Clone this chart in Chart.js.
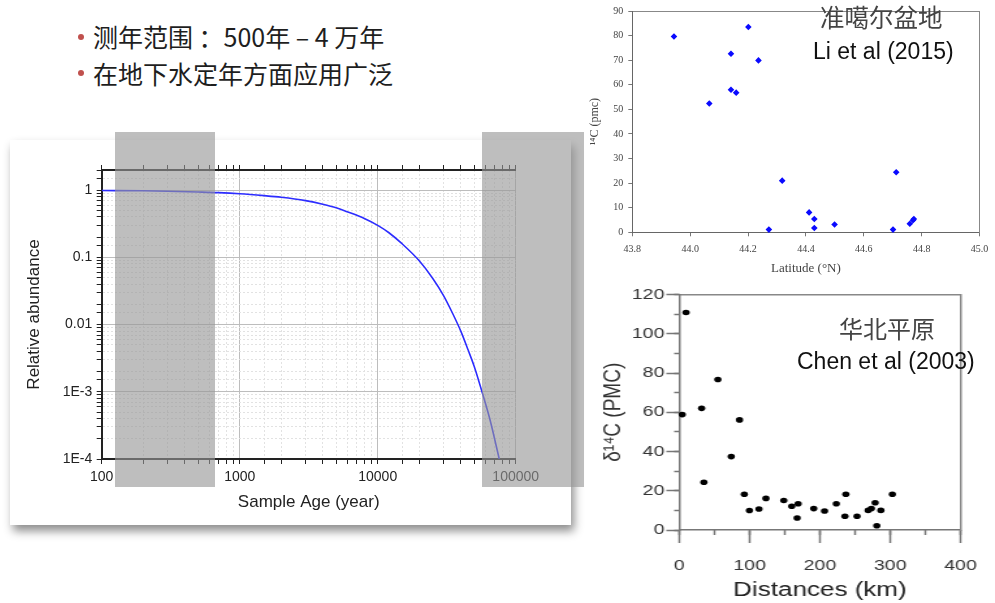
<!DOCTYPE html>
<html>
<head>
<meta charset="utf-8">
<script src="https://cdn.jsdelivr.net/npm/chart.js@4.4.0/dist/chart.umd.min.js"></script>
<style>
  html, body { margin: 0; padding: 0; background: #fff; }
  body { width: 995px; height: 603px; position: relative; overflow: hidden; font-family: "Liberation Sans", Arial, sans-serif; }
  .bullet { position: absolute; left: 93px; font-family: "Noto Sans CJK SC", sans-serif; font-size: 25px; line-height: 25px; color: #1e1e1e; white-space: nowrap; }
  .dot { position: absolute; left: 78px; width: 6px; height: 6px; border-radius: 50%; background: #c0504d; }
  #card1 { position: absolute; left: 10px; top: 140px; width: 561px; height: 385px; background: #fff; box-shadow: 3px 6px 9px rgba(0,0,0,0.45); }
  #box2 { position: absolute; left: 585px; top: 0; width: 410px; height: 280px; }
  #box3 { position: absolute; left: 598px; top: 280px; width: 305px; height: 323px; transform: scaleX(1.3016); transform-origin: 0 0; }
  .band { position: absolute; top: 131.5px; height: 355px; background: rgba(150,150,150,0.62); }
  .cjk { position: absolute; font-family: "Noto Sans CJK SC", sans-serif; color: #444; white-space: nowrap; }
  .lbl { position: absolute; font-family: "Liberation Sans", Arial, sans-serif; color: #111; white-space: nowrap; }
</style>
</head>
<body>

<div class="dot" style="top:34px"></div>
<div class="bullet" style="top:24px">测年范围 ：500年 – 4 万年</div>
<div class="dot" style="top:70px"></div>
<div class="bullet" style="top:61px">在地下水定年方面应用广泛</div>

<div id="card1"><canvas id="decayChart" width="561" height="385"></canvas></div>
<div class="band" style="left:114.5px; width:100.5px"></div>
<div class="band" style="left:481.7px; width:102.3px"></div>

<div id="box2"><canvas id="junggarChart" width="410" height="280"></canvas></div>
<div class="cjk" style="left:820px; top:5px; font-size:24.5px; line-height:24px">准噶尔盆地</div>
<div class="lbl" style="left:813px; top:40px; font-size:23px; line-height:23px">Li et al (2015)</div>

<div id="box3"><canvas id="plainChart" width="305" height="323"></canvas></div>
<div class="cjk" style="left:839px; top:316px; font-size:24px; line-height:24px">华北平原</div>
<div class="lbl" style="left:797px; top:350px; font-size:23px; line-height:23px">Chen et al (2003)</div>

<script>
// radiocarbon decay curve
var ageYears = [100, 200, 300, 500, 700, 1000, 1500, 2000, 3000, 4000, 5000, 6000, 8000, 10000,
  12000, 15000, 20000, 25000, 30000, 35000, 40000, 45000, 50000, 57000, 65000, 76000];
var relAbundance = [0.99, 0.98, 0.965, 0.94, 0.92, 0.886, 0.83, 0.785, 0.70, 0.62, 0.55, 0.48, 0.38, 0.30,
  0.235, 0.16, 0.089, 0.049, 0.027, 0.0145, 0.008, 0.0043, 0.0024, 0.001, 0.00039, 0.0001];
var ageDecades = [100, 1000, 10000, 100000];
var ageTickLabels = ['100', '1000', '10000', '100000'];
var abundanceDecades = [0.0001, 0.001, 0.01, 0.1, 1];
var abundanceTickLabels = ['1E-4', '1E-3', '0.01', '0.1', '1'];

// Junggar basin, Li et al (2015)
var junggarLat = [43.944, 44.201, 44.141, 44.236, 44.141, 44.159, 44.066, 44.318, 44.712,
  44.411, 44.429, 44.429, 44.272, 44.499, 44.701, 44.759, 44.770, 44.773];
var junggarC14 = [79.6, 83.5, 72.6, 69.9, 58.0, 56.8, 52.4, 21.0, 24.4,
  8.1, 5.4, 1.75, 1.1, 3.2, 1.1, 3.5, 4.9, 5.4];

// North China Plain, Chen et al (2003)
var plainDistKm = [4.1, 9.5, 54.8, 31.7, 34.9, 73.8, 85.6, 92.4, 99.7, 113.3, 123.2, 148.6, 159.9, 169.0,
  167.6, 191.2, 206.6, 223.3, 236.9, 235.6, 252.8, 268.6, 273.2, 278.6, 286.7, 280.9, 303.1];
var plainD14C = [58.8, 110.8, 76.7, 62.0, 24.3, 37.4, 56.1, 18.2, 9.9, 10.7, 16.1, 15.0, 12.1, 13.4,
  6.1, 10.9, 9.7, 13.4, 18.2, 7.0, 7.0, 10.0, 10.9, 13.9, 10.0, 2.2, 18.2];

Chart.defaults.font.family = '"Liberation Sans", Arial, sans-serif';
Chart.defaults.animation = false;
Chart.defaults.plugins.legend.display = false;
Chart.defaults.plugins.tooltip.enabled = false;

function isDecade(v) {
  var l = Math.log10(v);
  return Math.abs(l - Math.round(l)) < 1e-6;
}
function decadeLabel(v, decades, labels) {
  for (var i = 0; i < decades.length; i++) {
    if (Math.abs(Math.log10(decades[i]) - Math.log10(v)) < 1e-6) return labels[i];
  }
  return '';
}
var gridColor = function (c) { return (c.tick && isDecade(c.tick.value)) ? '#bdbdbd' : '#e2e2e2'; };
var gridDash = function (c) { return (c.tick && !isDecade(c.tick.value)) ? [2, 2] : []; };

// ---- left: decay curve on log-log axes
new Chart(document.getElementById('decayChart'), {
  type: 'line',
  data: {
    datasets: [{
      data: ageYears.map(function (a, i) { return { x: a, y: relAbundance[i] }; }),
      borderColor: 'rgb(45,45,255)',
      borderWidth: 1.6,
      pointRadius: 0,
      cubicInterpolationMode: 'monotone'
    }]
  },
  options: {
    responsive: false,
    layout: { padding: { left: 0, right: 55.3, top: 0, bottom: 0 } },
    scales: {
      x: {
        type: 'logarithmic', position: 'bottom', min: 100, max: 100000,
        ticks: {
          autoSkip: false, maxRotation: 0, padding: 5, color: '#222', font: { size: 14 },
          callback: function (v) { return decadeLabel(v, ageDecades, ageTickLabels); }
        },
        grid: { color: gridColor, tickLength: 5, tickColor: '#222' },
        border: { color: '#222', width: 2, dash: gridDash },
        title: { display: true, text: 'Sample Age (year)', color: '#222', font: { size: 17 }, padding: { top: 0, bottom: 12.8 } },
        afterFit: function (s) { s.height = 66; }
      },
      xTop: {
        type: 'logarithmic', position: 'top', min: 100, max: 100000,
        ticks: { display: false, autoSkip: false },
        grid: { drawOnChartArea: false, tickLength: 5, tickColor: '#222' },
        border: { color: '#222', width: 2 },
        afterFit: function (s) { s.height = 30; }
      },
      y: {
        type: 'logarithmic', position: 'left', min: 0.0001, max: 2,
        ticks: {
          autoSkip: false, padding: 4.4, color: '#222', font: { size: 14 },
          callback: function (v) { return decadeLabel(v, abundanceDecades, abundanceTickLabels); }
        },
        grid: { color: gridColor, tickLength: 5, tickColor: '#222' },
        border: { color: '#222', width: 2, dash: gridDash },
        title: { display: true, text: 'Relative abundance', color: '#222', font: { size: 17 }, padding: { top: 13.8, bottom: 0 } },
        afterFit: function (s) { s.width = 91.7; }
      }
    }
  }
});

// ---- top right: Junggar scatter
var serif = '"Liberation Serif", "Times New Roman", serif';
new Chart(document.getElementById('junggarChart'), {
  type: 'scatter',
  data: {
    datasets: [{
      data: junggarLat.map(function (x, i) { return { x: x, y: junggarC14[i] }; }),
      pointStyle: 'rectRot',
      pointRadius: 3.3,
      backgroundColor: '#0a0aff',
      borderWidth: 0
    }]
  },
  options: {
    responsive: false,
    clip: false,
    layout: { padding: { left: 0, right: 7.7, top: 10, bottom: 0 } },
    scales: {
      x: {
        type: 'linear', min: 43.8, max: 45.0,
        ticks: { stepSize: 0.2, padding: 6.7, color: '#444', font: { family: serif, size: 10 },
          callback: function (v) { return v.toFixed(1); } },
        grid: { drawOnChartArea: false, tickLength: 4, tickColor: '#777' },
        border: { color: '#666', width: 1 },
        title: { display: true, text: 'Latitude (°N)', color: '#444', font: { family: serif, size: 13 }, padding: { top: 0, bottom: 3.9 } },
        afterFit: function (s) { s.height = 47.7; }
      },
      xTop: {
        type: 'linear', position: 'top', min: 43.8, max: 45.0,
        ticks: { display: false }, grid: { display: false },
        border: { color: '#888', width: 1 },
        afterFit: function (s) { s.height = 0; }
      },
      y: {
        type: 'linear', min: 0, max: 90,
        ticks: { stepSize: 10, padding: 5, color: '#444', font: { family: serif, size: 10 } },
        grid: { drawOnChartArea: false, tickLength: 4, tickColor: '#777' },
        border: { color: '#666', width: 1 },
        title: { display: true, text: '¹⁴C (pmc)', color: '#444', font: { family: serif, size: 12 }, padding: { top: 2.8, bottom: 0 } },
        afterFit: function (s) { s.width = 47.3; }
      },
      yRight: {
        type: 'linear', position: 'right', min: 0, max: 90,
        ticks: { display: false }, grid: { display: false },
        border: { color: '#888', width: 1 },
        afterFit: function (s) { s.width = 0; }
      }
    }
  }
});

// ---- bottom right: North China Plain scatter (source image is stretched sideways)
new Chart(document.getElementById('plainChart'), {
  type: 'scatter',
  data: {
    datasets: [{
      data: plainDistKm.map(function (x, i) { return { x: x, y: plainD14C[i] }; }),
      pointRadius: 2.8,
      backgroundColor: '#000',
      borderWidth: 0
    }]
  },
  options: {
    responsive: false,
    clip: false,
    layout: { padding: { left: 0, right: 16.7, top: 14.5, bottom: 0 } },
    scales: {
      x: {
        type: 'linear', position: 'bottom', weight: 1, min: 0, max: 400,
        ticks: { stepSize: 100, padding: 14, color: '#333', font: { size: 15 } },
        grid: { drawOnChartArea: false, tickLength: 13, tickColor: '#777', tickWidth: 1.5 },
        border: { color: '#777', width: 1.5 },
        title: { display: true, text: 'Distances (km)', color: '#222', font: { size: 20 }, padding: { top: 0, bottom: 1 } },
        afterFit: function (s) { s.height = 73; }
      },
      xMinor: {
        type: 'linear', position: 'bottom', weight: 0, min: 0, max: 400,
        ticks: { stepSize: 50, display: false },
        grid: { drawOnChartArea: false, tickLength: 5, tickColor: '#777', tickWidth: 1.5 },
        border: { display: false },
        afterFit: function (s) { s.height = 0; }
      },
      xTop: {
        type: 'linear', position: 'top', min: 0, max: 400,
        ticks: { display: false }, grid: { display: false },
        border: { color: '#888', width: 1.5 },
        afterFit: function (s) { s.height = 0; }
      },
      y: {
        type: 'linear', position: 'left', weight: 1, min: 0, max: 120,
        ticks: { stepSize: 20, padding: 1.5, color: '#333', font: { size: 15 } },
        grid: { drawOnChartArea: false, tickLength: 10, tickColor: '#777', tickWidth: 1.5 },
        border: { color: '#777', width: 1.5 },
        title: { display: true, text: 'δ¹⁴C (PMC)', color: '#333', font: { size: 19 }, padding: { top: 0.5, bottom: 0 } },
        afterFit: function (s) { s.width = 62.5; }
      },
      yMinor: {
        type: 'linear', position: 'left', weight: 0, min: 0, max: 120,
        ticks: { stepSize: 10, display: false },
        grid: { drawOnChartArea: false, tickLength: 4, tickColor: '#777', tickWidth: 1.5 },
        border: { display: false },
        afterFit: function (s) { s.width = 0; }
      },
      yRight: {
        type: 'linear', position: 'right', min: 0, max: 120,
        ticks: { display: false }, grid: { display: false },
        border: { color: '#888', width: 1.5 },
        afterFit: function (s) { s.width = 0; }
      }
    }
  }
});
</script>
</body>
</html>
